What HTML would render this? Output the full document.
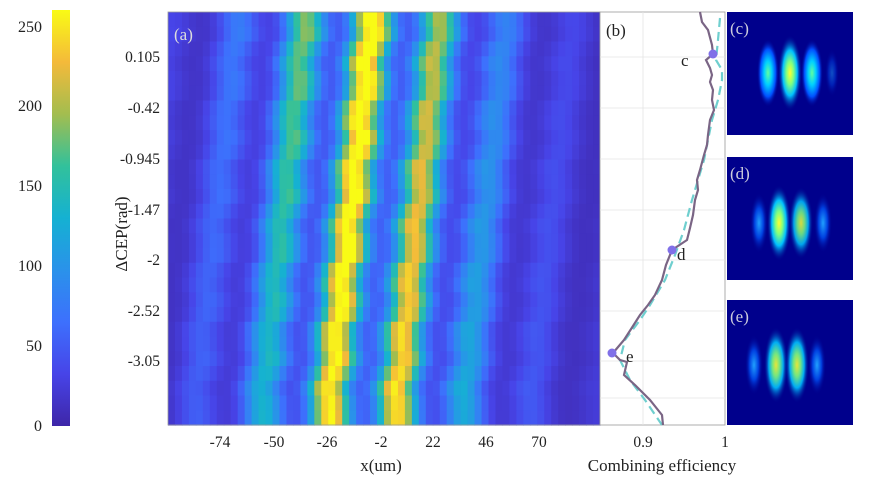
<!DOCTYPE html>
<html><head><meta charset="utf-8"><style>
html,body{margin:0;padding:0;background:#fff;}
svg{display:block;font-family:"Liberation Serif",serif;}
</style></head><body>
<svg id="s" width="874" height="484" viewBox="0 0 874 484" xmlns="http://www.w3.org/2000/svg">
<defs>
<linearGradient id="parula" x1="0" y1="1" x2="0" y2="0">
<stop offset="0" stop-color="#3e26a8"/><stop offset="0.125" stop-color="#4744e8"/>
<stop offset="0.25" stop-color="#3d70fd"/><stop offset="0.375" stop-color="#2a92ea"/>
<stop offset="0.5" stop-color="#15b1d2"/><stop offset="0.625" stop-color="#32c19b"/>
<stop offset="0.75" stop-color="#a3bd4f"/><stop offset="0.875" stop-color="#f4ba3a"/>
<stop offset="1" stop-color="#f9fb15"/></linearGradient>
<radialGradient id="fy"><stop offset="0" stop-color="#ffff30"/><stop offset="0.3" stop-color="#80ff80"/><stop offset="0.6" stop-color="#00c0ff"/><stop offset="1" stop-color="#00008c" stop-opacity="0"/></radialGradient>
<radialGradient id="fc"><stop offset="0" stop-color="#60ffa0"/><stop offset="0.35" stop-color="#00d0ff"/><stop offset="0.7" stop-color="#0050ff"/><stop offset="1" stop-color="#00008c" stop-opacity="0"/></radialGradient>
<radialGradient id="fb"><stop offset="0" stop-color="#20a0ff"/><stop offset="0.5" stop-color="#0040e0"/><stop offset="1" stop-color="#00008c" stop-opacity="0"/></radialGradient>
</defs>
<rect x="52" y="10" width="18" height="416" fill="url(#parula)"/>
<g font-size="16" text-anchor="end" fill="#222">
<text x="42" y="32">250</text><text x="42" y="111">200</text><text x="42" y="191">150</text>
<text x="42" y="271">100</text><text x="42" y="351">50</text><text x="42" y="431">0</text></g>
<g id="hm"></g>
<rect x="168" y="12" width="432" height="413" fill="none" stroke="#999" stroke-width="0.8"/>
<text x="174" y="40" font-size="17" fill="#ddd">(a)</text>
<g font-size="15.5" text-anchor="end" fill="#222">
<text x="160" y="62">0.105</text><text x="160" y="113">-0.42</text><text x="160" y="164">-0.945</text>
<text x="160" y="215">-1.47</text><text x="160" y="265">-2</text><text x="160" y="316">-2.52</text><text x="160" y="366">-3.05</text></g>
<text transform="translate(127,234) rotate(-90)" font-size="17" text-anchor="middle" fill="#222">ΔCEP(rad)</text>
<g font-size="15.5" text-anchor="middle" fill="#222">
<text x="220" y="447">-74</text><text x="274" y="447">-50</text><text x="327" y="447">-26</text>
<text x="381" y="447">-2</text><text x="433" y="447">22</text><text x="486" y="447">46</text><text x="539" y="447">70</text>
<text x="381" y="471" font-size="17">x(um)</text>
<text x="643" y="447">0.9</text><text x="725" y="447">1</text>
<text x="662" y="471" font-size="17">Combining efficiency</text></g>
<rect x="600" y="12" width="125" height="413" fill="#fff" stroke="#999" stroke-width="0.8"/>
<g stroke="#e4e4e4" stroke-width="0.8"><line x1="643" y1="12" x2="643" y2="425"/>
<line x1="600" y1="57" x2="725" y2="57"/><line x1="600" y1="108" x2="725" y2="108"/><line x1="600" y1="159" x2="725" y2="159"/><line x1="600" y1="210" x2="725" y2="210"/><line x1="600" y1="260" x2="725" y2="260"/><line x1="600" y1="311" x2="725" y2="311"/><line x1="600" y1="361" x2="725" y2="361"/><line x1="600" y1="398" x2="725" y2="398"/></g>
<text x="606" y="36" font-size="17" fill="#222">(b)</text>
<polyline fill="none" stroke="#6fcfcf" stroke-width="2.2" stroke-dasharray="9,5" points="720,18 718,40 716,60 722,70 722,80 718,100 712,120 708,140 704,160 698,180 692,200 684,230 675,255 665,280 650,305 640,320 625,340 620,360 630,380 645,400 662,425"/>
<polyline fill="none" stroke="#7a6585" stroke-width="2.2" points="700,12 702,22 708,30 712,45 713,54 706,60 710,68 712,75 710,82 713,90 712,100 714,110 710,120 708,135 707,145 704,155 700,170 697,180 698,190 695,200 693,215 690,228 687,240 672,250 666,265 662,280 655,295 648,305 640,315 633,326 624,340 613,353 620,360 627,362 624,375 635,385 650,400 662,415 663,425"/>
<circle cx="713" cy="54" r="4.5" fill="#8070e8"/><circle cx="672" cy="250" r="4.5" fill="#8070e8"/><circle cx="612" cy="353" r="4.5" fill="#8070e8"/>
<g font-size="17" fill="#222"><text x="681" y="66">c</text><text x="677" y="260">d</text><text x="626" y="362">e</text></g>
<rect x="727" y="12" width="126" height="123" fill="#00008c"/>
<rect x="727" y="157" width="126" height="123" fill="#00008c"/>
<rect x="727" y="300" width="126" height="125" fill="#00008c"/>
<ellipse cx="768" cy="73" rx="11" ry="34" fill="url(#fc)"/><ellipse cx="790" cy="73" rx="12" ry="38" fill="url(#fy)"/><ellipse cx="812" cy="73" rx="11" ry="34" fill="url(#fc)"/><ellipse cx="832" cy="73" rx="7" ry="24" fill="url(#fb)" opacity="0.5"/>
<ellipse cx="759" cy="223" rx="9" ry="30" fill="url(#fb)"/><ellipse cx="779" cy="223" rx="12" ry="38" fill="url(#fy)"/><ellipse cx="801" cy="223" rx="12" ry="36" fill="url(#fy)" opacity="0.85"/><ellipse cx="823" cy="223" rx="9" ry="30" fill="url(#fb)"/>
<ellipse cx="754" cy="365" rx="9" ry="30" fill="url(#fb)"/><ellipse cx="776" cy="365" rx="12" ry="38" fill="url(#fy)" opacity="0.9"/><ellipse cx="797" cy="365" rx="12" ry="38" fill="url(#fy)" opacity="0.9"/><ellipse cx="817" cy="365" rx="9" ry="30" fill="url(#fb)"/>
<g font-size="17" fill="#ccd"><text x="730" y="34">(c)</text><text x="730" y="179">(d)</text><text x="730" y="322">(e)</text></g>
</svg>
<script>
(function(){
var P=[[62,38,168],[71,68,232],[61,112,253],[42,146,234],[21,177,210],[50,193,155],[163,189,79],[244,186,58],[249,251,21]];
function col(v){v=Math.max(0,Math.min(1,v))*8;var i=Math.min(7,Math.floor(v)),f=v-i,a=P[i],b=P[i+1];
return 'rgb('+Math.round(a[0]+(b[0]-a[0])*f)+','+Math.round(a[1]+(b[1]-a[1])*f)+','+Math.round(a[2]+(b[2]-a[2])*f)+')';}
var g=document.getElementById('hm'),h='';var rows=28,cols=62,x0=168,y0=12,W=432,H=413;
var rh=H/rows,cw=W/cols;
for(var r=0;r<rows;r++){var t=(r+0.5)/rows;var sh=373-46*t+(Math.sin(r*1.7)*3);var ec=376-16*t;
for(var c=0;c<cols;c++){var x=x0+(c+0.5)*cw;var v=0;
for(var k=-4;k<=4;k++){var fx=sh+k*67;var d=x-fx;var a=Math.exp(-(fx-ec)*(fx-ec)/(2*68*68));v+=(0.85*a+0.22*Math.exp(-(fx-ec)*(fx-ec)/(2*150*150)))*Math.exp(-d*d/(2*14*14));}
v=v*0.9+0.03+0.08*Math.exp(-(x-ec)*(x-ec)/(2*100*100));
h+='<rect x="'+(x0+c*cw).toFixed(2)+'" y="'+(y0+r*rh).toFixed(2)+'" width="'+(cw+0.6).toFixed(2)+'" height="'+(rh+0.6).toFixed(2)+'" fill="'+col(v)+'"/>';}}
g.innerHTML=h;})();
</script>
</body></html>
